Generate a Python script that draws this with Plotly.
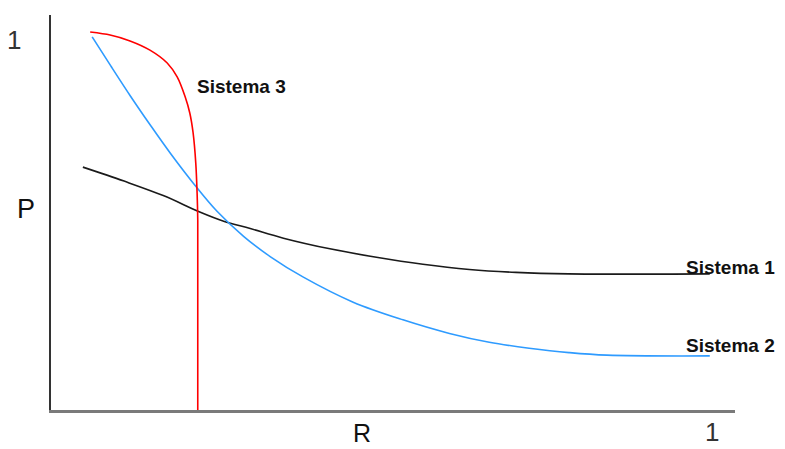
import plotly.graph_objects as go

# Sistema 1 (black)
s1_r = [0.048, 0.110, 0.170, 0.224, 0.260, 0.300, 0.350, 0.420, 0.490, 0.560, 0.630, 0.700, 0.780, 0.992]
s1_p = [0.660, 0.622, 0.582, 0.538, 0.513, 0.493, 0.467, 0.438, 0.415, 0.396, 0.382, 0.374, 0.370, 0.370]

# Sistema 2 (blue)
s2_r = [0.062, 0.090, 0.120, 0.150, 0.180, 0.214, 0.250, 0.290, 0.330, 0.380, 0.455, 0.530,
        0.600, 0.660, 0.720, 0.780, 0.837, 0.992]
s2_p = [1.014, 0.935, 0.852, 0.773, 0.697, 0.617, 0.540, 0.472, 0.417, 0.361, 0.293, 0.245,
        0.208, 0.184, 0.168, 0.156, 0.149, 0.147]

# Sistema 3 (red)
s3_r = [0.059, 0.089, 0.119, 0.149, 0.175, 0.190, 0.202, 0.209, 0.214, 0.218, 0.220, 0.221, 0.221]
s3_p = [1.027, 1.019, 1.003, 0.978, 0.943, 0.905, 0.851, 0.807, 0.753, 0.671, 0.590, 0.516, 0.0]

series_names = ["Sistema 1", "Sistema 2", "Sistema 3"]
label_pos = [(0.953, 0.386), (0.953, 0.174), (0.217, 0.878)]

X_MAX = 1.030
Y_MAX = 1.0734

fig = go.Figure()
fig.add_trace(go.Scatter(x=s1_r, y=s1_p, mode="lines",
                         line=dict(color="#1a1a1a", width=1.6, shape="spline", smoothing=1.0), showlegend=False))
fig.add_trace(go.Scatter(x=s2_r, y=s2_p, mode="lines",
                         line=dict(color="#2e9bff", width=1.6, shape="spline", smoothing=1.0), showlegend=False))
fig.add_trace(go.Scatter(x=s3_r, y=s3_p, mode="lines",
                         line=dict(color="#ff0000", width=1.6, shape="spline", smoothing=0.8), showlegend=False))

ann = []
for name, (lx, ly) in zip(series_names, label_pos):
    ann.append(dict(x=lx, y=ly, xref="x", yref="y", text="<b>%s</b>" % name, showarrow=False,
                    xanchor="left", yanchor="middle",
                    font=dict(family="Liberation Sans, Arial", size=19, color="#111")))

axis_text = [("1", -0.056, 1.005, 26, "#333"), ("1", 0.995, -0.06, 26, "#333"),
             ("P", -0.038, 0.546, 27, "#111"), ("R", 0.468, -0.062, 25, "#111")]
for t, dx, dy, fs, col in axis_text:
    ann.append(dict(x=dx / X_MAX, y=dy / Y_MAX, xref="paper", yref="paper", text=t, showarrow=False,
                    xanchor="center", yanchor="middle", borderpad=0,
                    font=dict(family="Liberation Sans, Arial", size=fs, color=col)))

fig.update_layout(
    width=777, height=441,
    margin=dict(l=43, r=50, t=7, b=39),
    paper_bgcolor="white", plot_bgcolor="white",
    xaxis=dict(range=[0, X_MAX], showgrid=False, zeroline=False, showticklabels=False, ticks="",
               showline=True, linecolor="#7a7a7a", linewidth=3),
    yaxis=dict(range=[0, Y_MAX], showgrid=False, zeroline=False, showticklabels=False, ticks="",
               showline=True, linecolor="#333333", linewidth=1.5),
    annotations=ann,
)

fig.write_html("out.html")
